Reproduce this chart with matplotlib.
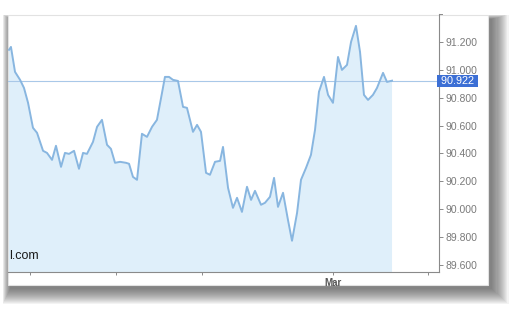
import matplotlib
matplotlib.use("Agg")
import matplotlib.pyplot as plt
from matplotlib.patches import Rectangle
import matplotlib.transforms as mtransforms

# ---- data (time in days from start, price) ----
days = [0.08, 0.24, 0.57, 0.98, 1.30, 1.63, 2.03, 2.36, 2.85, 3.17, 3.58, 3.90,
        4.31, 4.63, 4.96, 5.37, 5.77, 6.10, 6.42, 6.91, 7.24, 7.64, 8.05, 8.37,
        8.70, 9.11, 9.59, 9.84, 10.16, 10.49, 10.89, 11.30, 11.71, 12.11, 12.52,
        12.76, 13.09, 13.41, 13.82, 14.23, 14.55, 15.04, 15.37, 15.69, 16.10,
        16.42, 16.83, 17.24, 17.48, 17.89, 18.29, 18.62, 19.02, 19.43, 19.76,
        20.08, 20.57, 20.89, 21.30, 21.63, 21.95, 22.36, 22.76, 23.09, 23.50,
        23.82, 24.23, 24.63, 24.96, 25.28, 25.69, 26.02, 26.42, 26.83, 27.15,
        27.56, 27.89, 28.29, 28.62, 28.94, 29.27, 29.67, 30.00, 30.49, 30.81,
        31.22]
prices = [91.143, 91.164, 90.985, 90.928, 90.870, 90.763, 90.584, 90.548,
          90.419, 90.404, 90.354, 90.455, 90.304, 90.404, 90.397, 90.419,
          90.290, 90.404, 90.397, 90.483, 90.591, 90.641, 90.462, 90.433,
          90.333, 90.340, 90.333, 90.326, 90.232, 90.211, 90.541, 90.519,
          90.591, 90.641, 90.834, 90.949, 90.949, 90.928, 90.920, 90.734,
          90.727, 90.555, 90.605, 90.555, 90.261, 90.247, 90.340, 90.347,
          90.447, 90.153, 90.010, 90.082, 89.981, 90.161, 90.067, 90.132,
          90.032, 90.046, 90.089, 90.225, 90.017, 90.118, 89.924, 89.774,
          89.974, 90.211, 90.297, 90.390, 90.569, 90.842, 90.949, 90.820,
          90.763, 91.092, 90.999, 91.035, 91.200, 91.315, 91.128, 90.820,
          90.784, 90.820, 90.870, 90.978, 90.913, 90.922]
last_price = 90.922
x_tick_pos = [1.79, 8.78, 15.77, 26.42, 34.15]
x_tick_labels = ["", "", "", "Mar", ""]
y_ticks = [89.6, 89.8, 90.0, 90.2, 90.4, 90.6, 90.8, 91.0, 91.2]
y_top_label = 91.4
watermark = "l.com"

W, H = 522, 317
fig = plt.figure(figsize=(W / 100, H / 100), dpi=100)
fig.patch.set_facecolor("white")

def fr(x0, y0, x1, y1):
    # pixel box (top-left origin) -> figure fraction rect
    return (x0 / W, 1 - y1 / H, (x1 - x0) / W, (y1 - y0) / H)

def add_rect(x0, y0, x1, y1, z, **kw):
    r = fr(x0, y0, x1, y1)
    p = Rectangle(r[:2], r[2], r[3], transform=fig.transFigure, zorder=z, **kw)
    fig.patches.append(p)
    return p

# drop shadow
n = 16
for g in range(n):
    add_rect(8 + 2 - g * 0.5, 15 + 4 - g * 0.3, 488 + 4 + g * 1.1, 285 + 4 + g * 1.0, 0,
             facecolor="#404040", edgecolor="none", alpha=0.06)
# card
card = add_rect(8, 15, 488, 285, 1, facecolor="white", edgecolor="#e2e2e2", lw=0.8)

ax = fig.add_axes(fr(8, 14, 439, 272))
ax.set_zorder(2)
ax.patch.set_alpha(0)
ax.plot(days, prices, color="#88b6e0", lw=1.4, zorder=3)
ax.fill_between(days, prices, 89.0, color="#dfeffa", lw=0, zorder=2)
ax.axhline(last_price, color="#a9c8e8", lw=0.8, zorder=2)

ax.set_xlim(0, 35.04)
ax.set_ylim(89.55, 91.40)
ax.yaxis.tick_right()
ax.set_yticks(y_ticks)
ax.set_yticklabels([f"{v:.3f}" for v in y_ticks])
ax.set_xticks(x_tick_pos)
ax.set_xticklabels(x_tick_labels)
for s in ["top", "left"]:
    ax.spines[s].set_visible(False)
for s in ["right", "bottom"]:
    ax.spines[s].set_color("#8a8a8a")
    ax.spines[s].set_linewidth(0.8)
ax.tick_params(axis="y", colors="#8a8a8a", length=3, width=0.7, pad=2,
               labelsize=7.5, labelcolor="#7a7a7a")
ax.tick_params(axis="x", colors="#8a8a8a", length=2.5, width=0.7, pad=1.5,
               labelsize=7, labelcolor="#555555")
for lab in ax.get_yticklabels():
    lab.set_fontfamily("Liberation Sans")
for lab in ax.get_xticklabels():
    lab.set_fontfamily("Liberation Sans")
    lab.set_fontweight("bold")

trans = mtransforms.blended_transform_factory(ax.transAxes, ax.transData)

# partial top label, clipped at the card's top edge
clip_r = fr(8, 16.5, 488, 285)
clip_rect = Rectangle(clip_r[:2], clip_r[2], clip_r[3], transform=fig.transFigure)
top_txt = ax.text(1.0, y_top_label, "  " + f"{y_top_label:.3f}", transform=trans,
                  ha="left", va="center", fontsize=7.5, color="#7a7a7a",
                  family="Liberation Sans", clip_on=True)
top_txt.set_clip_path(clip_rect)
ax.plot([1.0, 1.0 + 3 / 431], [y_top_label, y_top_label], transform=trans,
        color="#8a8a8a", lw=0.7, clip_on=False)

# price badge
ax.text(0.997, last_price, f" {last_price:.3f} ", transform=trans, ha="left", va="center",
        fontsize=7.8, color="white", family="Liberation Sans", zorder=5,
        bbox=dict(boxstyle="square,pad=0.1", facecolor="#3c6fd5", edgecolor="none"),
        clip_on=False)

# watermark
ax.text(0.002, 0.063, watermark, transform=ax.transAxes, ha="left", va="center",
        fontsize=9, color="#1a1a1a", family="Liberation Sans", zorder=4)

fig.savefig("out.png", dpi=100)
